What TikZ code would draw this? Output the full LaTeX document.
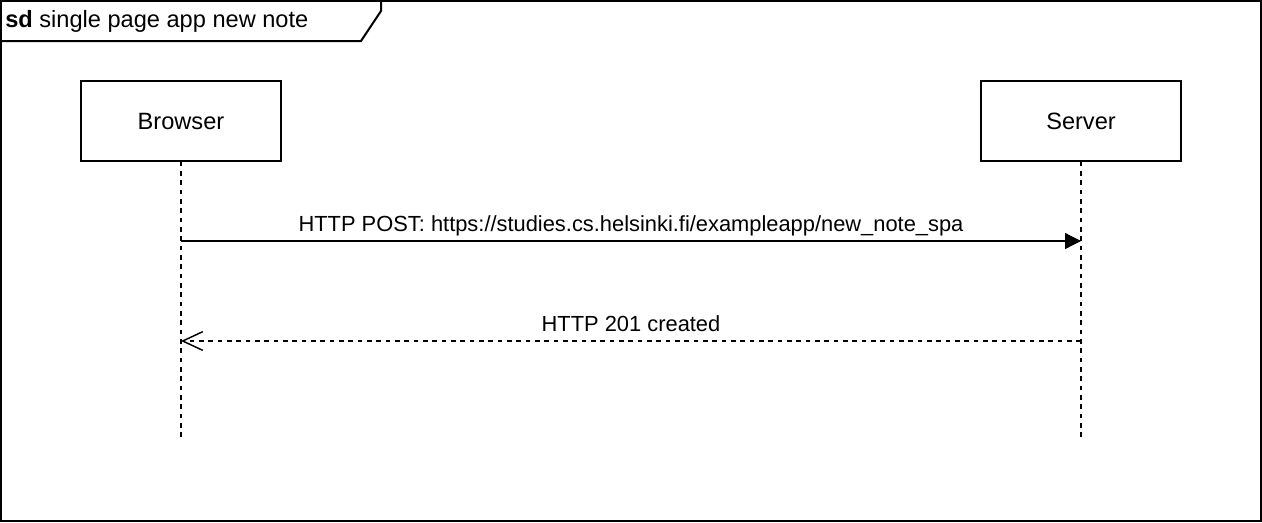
\documentclass[tikz,border=0pt]{standalone}
\usepackage{fontspec}
\setmainfont{Liberation Sans}
\usepackage{tikz}
\usetikzlibrary{arrows.meta,positioning}

\begin{document}
\begin{tikzpicture}[x=0.75pt, y=-0.75pt, >=Latex, font=\fontsize{16.4}{19}\selectfont,
  bigtext/.style={font=\fontsize{17.7}{21}\selectfont},
  actor/.style={draw, line width=1pt, minimum width=150pt, minimum height=60pt, inner sep=0pt, bigtext},
  lifeline/.style={line width=0.9pt, dash pattern=on 3.6pt off 3.4pt},
  msgcall/.style={line width=0.9pt, -{Triangle[length=12pt, width=12pt]}},
  msgreply/.style={line width=0.9pt, dash pattern=on 3.6pt off 3.4pt, -{Straight Barb[length=15pt, width=14pt, line width=1.1pt]}}]
\useasboundingbox (0,0) rectangle (1262,522);
% frame and title tab
\draw[line width=1.5pt] (1,1) rectangle (1261,521);
\draw[line width=1.5pt] (1,41) -- (361,41) -- (381,11) -- (381,1);
\node[anchor=base west, inner sep=0pt, bigtext] (title) at (5,27) {\textbf{sd} single page app new note};
% participants
\node[actor] (browser) at (181,121) {Browser};
\node[actor] (server) at (1081,121) {Server};
\coordinate (browserEnd) at (181,441);
\coordinate (serverEnd) at (1081,441);
\draw[lifeline] (browser.south) -- (browserEnd);
\draw[lifeline] (server.south) -- (serverEnd);
% messages
\coordinate (post1) at (181,241);
\coordinate (post2) at (1081,241);
\coordinate (reply1) at (1081,341);
\coordinate (reply2) at (181,341);
\draw[msgcall] (post1) -- node[midway, anchor=base, yshift=7.5pt, inner sep=0pt] (postlabel) {HTTP POST: https://studies.cs.helsinki.fi/exampleapp/new\_note\_spa} (post2);
\draw[msgreply] (reply1) -- node[midway, anchor=base, yshift=7pt, inner sep=0pt] (replylabel) {HTTP 201 created} (reply2);
\end{tikzpicture}
\end{document}
